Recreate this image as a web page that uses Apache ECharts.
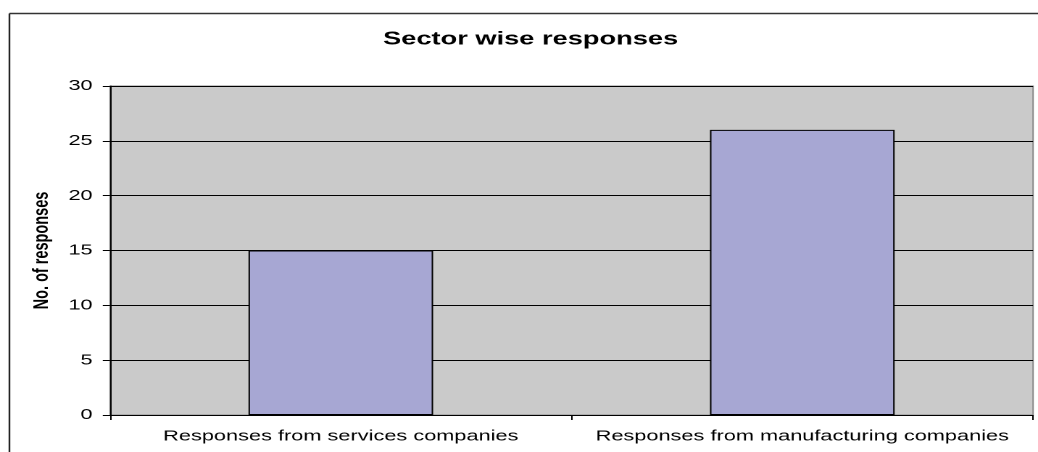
<!DOCTYPE html>
<html>
<head>
<meta charset="utf-8">
<script src="https://cdn.jsdelivr.net/npm/echarts@6/dist/echarts.min.js"></script>
<style>
  html, body { margin: 0; padding: 0; background: #ffffff; overflow: hidden; }
  #chart { width: 716px; height: 452px; transform: scaleX(1.4497); transform-origin: 0 0; }
</style>
</head>
<body>
<div id="chart"></div>
<script>
const titleText = 'Sector wise responses';
const yAxisName = 'No. of responses';
const categories = ['Responses from services companies', 'Responses from manufacturing companies'];
const responses = [15, 26];
const yMin = 0;
const yMax = 30;
const yStep = 5;

const chart = echarts.init(document.getElementById('chart'), null, { renderer: 'canvas', devicePixelRatio: 2 });
const font = 'Liberation Sans, Arial, sans-serif';

chart.setOption({
  animation: false,
  backgroundColor: '#ffffff',
  title: {
    text: titleText,
    left: 361,
    top: 25,
    textAlign: 'center',
    textStyle: { fontFamily: font, fontSize: 18.8, fontWeight: 'bold', color: '#000000' }
  },
  graphic: [
    { type: 'line', shape: { x1: 6.5, y1: 13.5, x2: 716, y2: 13.5 }, style: { stroke: '#333333', lineWidth: 1.5 }, silent: true },
    { type: 'line', shape: { x1: 6.5, y1: 13.5, x2: 6.5, y2: 452 }, style: { stroke: '#222222', lineWidth: 1.2 }, silent: true }
  ],
  grid: {
    left: 75.9, right: 3.4, top: 86, bottom: 37,
    show: true, backgroundColor: '#cacaca', borderColor: '#8a8a8a', borderWidth: 1
  },
  xAxis: {
    type: 'category',
    data: categories,
    boundaryGap: true,
    axisLine: { show: true, lineStyle: { color: '#000000', width: 1 } },
    axisTick: { show: true, interval: 0, length: 5, lineStyle: { color: '#000000' } },
    axisLabel: { interval: 0, margin: 14, fontFamily: font, fontSize: 15, color: '#000000' },
    splitLine: { show: false }
  },
  yAxis: {
    type: 'value',
    min: yMin, max: yMax, interval: yStep,
    name: yAxisName,
    nameLocation: 'middle',
    nameGap: 39,
    nameRotate: 90,
    nameTextStyle: { fontFamily: font, fontSize: 14.5, fontWeight: 'bold', color: '#000000' },
    axisLine: { show: true, lineStyle: { color: '#000000', width: 1 } },
    axisTick: { show: true, length: 5, lineStyle: { color: '#000000' } },
    axisLabel: { margin: 12, fontFamily: font, fontSize: 15, color: '#000000' },
    splitLine: { show: true, lineStyle: { color: '#000000', width: 1 } }
  },
  series: [{
    type: 'bar',
    data: responses,
    barWidth: '40%',
    itemStyle: { color: '#a7a7d3', borderColor: '#000000', borderWidth: 1 }
  }]
});
</script>
</body>
</html>
